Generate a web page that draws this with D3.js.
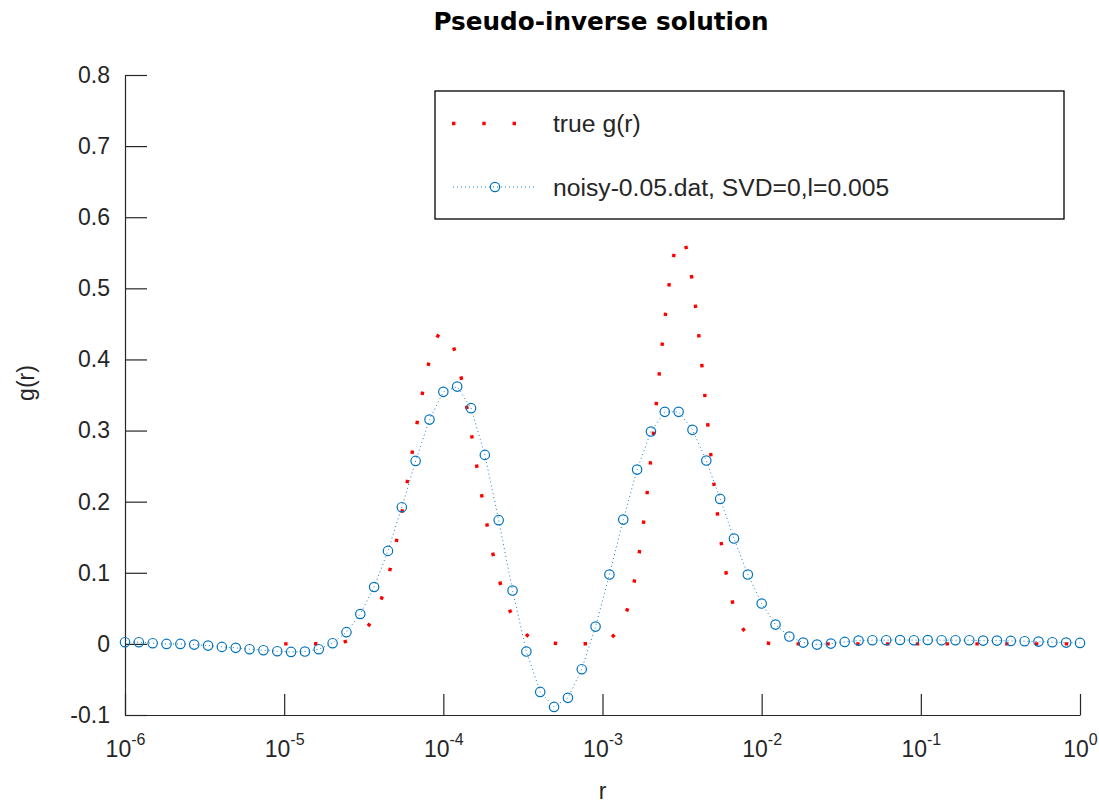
<!DOCTYPE html>
<html>
<head>
<meta charset="utf-8">
<script src="https://cdn.jsdelivr.net/npm/d3@7"></script>
<style>
  body { margin: 0; background: #fff; }
  text { font-family: "Liberation Sans", Arial, sans-serif; fill: #262626; }
</style>
</head>
<body>
<div id="chart"></div>
<script>
(function() {
  const width = 1099, height = 803;
  const margin = { top: 75, left: 125, right: 19, bottom: 88 };

  // x grid of the noisy solution: 70 points evenly spaced in log10(r) from 1e-6 to 1
  const noisyLogStart = -6, noisyLogEnd = 0, noisyCount = 70;
  const noisyG = [
    0.0024, 0.0024, 0.0010, 0.0000, 0.0000, -0.0010, -0.0024, -0.0042, -0.0056, -0.0075,
    -0.0089, -0.0103, -0.0113, -0.0108, -0.0075, 0.0010, 0.0165, 0.0420, 0.0800, 0.1308,
    0.1922, 0.2573, 0.3154, 0.3544, 0.3618, 0.3315, 0.2658, 0.1740, 0.0750, -0.0108,
    -0.0675, -0.0886, -0.0759, -0.0356, 0.0243, 0.0975, 0.1748, 0.2451, 0.2986, 0.3263,
    0.3263, 0.3010, 0.2578, 0.2039, 0.1481, 0.0975, 0.0567, 0.0271, 0.0103, 0.0018,
    -0.0010, 0.0004, 0.0028, 0.0046, 0.0052, 0.0052, 0.0055, 0.0052, 0.0055, 0.0052,
    0.0052, 0.0052, 0.0046, 0.0046, 0.0042, 0.0038, 0.0032, 0.0024, 0.0018, 0.0014
  ];

  // true g(r): log10(r) and value
  const trueLogR = [
    -5, -4.9, -4.8, -4.7, -4.6, -4.5, -4.45, -4.4, -4.35, -4.3, -4.25, -4.2, -4.15, -4.1, -4.05,
    -4.0, -3.95, -3.9, -3.85, -3.8, -3.75, -3.7, -3.65, -3.6, -3.55, -3.5, -3.4, -3.3, -3.2, -3.1,
    -3.0, -2.95, -2.9, -2.85, -2.8, -2.75, -2.7, -2.65, -2.6, -2.55, -2.5, -2.45, -2.4, -2.35, -2.3,
    -2.25, -2.2, -2.15, -2.1, -2.0, -1.9, -1.8, -1.5, -1.0, -0.5, 0
  ];
  const trueG = [
    0, 0, 0.0001, 0.0008, 0.0044, 0.0178, 0.0328, 0.0566, 0.0915, 0.1388, 0.1975, 0.2635, 0.3298, 0.3870, 0.4260,
    0.4400, 0.4260, 0.3870, 0.3298, 0.2635, 0.1975, 0.1388, 0.0915, 0.0566, 0.0328, 0.0178, 0.0044, 0.0008, 0.0001, 0.0003,
    0.0029, 0.0081, 0.0200, 0.0443, 0.0882, 0.1574, 0.2523, 0.3650, 0.4720, 0.5480, 0.5700, 0.5300, 0.4440, 0.3340, 0.2250,
    0.1360, 0.0740, 0.0360, 0.0158, 0.0022, 0.0003, 0, 0, 0, 0, 0
  ];

  const xTicks = [1e-6, 1e-5, 1e-4, 1e-3, 1e-2, 1e-1, 1];
  const yTicks = [-0.1, 0, 0.1, 0.2, 0.3, 0.4, 0.5, 0.6, 0.7, 0.8];

  const legendLabels = ['true g(r)', 'noisy-0.05.dat, SVD=0,l=0.005'];

  const red = '#ff0000', blue = '#0072bd';

  const svg = d3.select('#chart')
    .append('svg')
      .attr('width', width)
      .attr('height', height);

  svg.append('rect')
    .attr('width', width).attr('height', height).attr('fill', '#fff');

  const x = d3.scaleLog()
    .domain([1e-6, 1])
    .range([margin.left, width - margin.right]);

  const y = d3.scaleLinear()
    .domain([-0.1, 0.8])
    .range([height - margin.bottom, margin.top]);

  const noisy = noisyG.map((g, i) => ({
    r: Math.pow(10, noisyLogStart + i * (noisyLogEnd - noisyLogStart) / (noisyCount - 1)),
    g: g
  }));
  const truth = trueLogR.map((l, i) => ({ r: Math.pow(10, l), g: trueG[i] }));

  /*
    Axes: left and bottom only, ticks pointing inward
  */
  const yAxis = d3.axisLeft(y)
    .tickValues(yTicks)
    .tickSizeInner(-22)
    .tickSizeOuter(0)
    .tickPadding(15)
    .tickFormat(d => Math.abs(d) < 1e-9 ? '0' : d.toFixed(1));

  const gy = svg.append('g')
    .attr('transform', `translate(${x.range()[0]},0)`)
    .call(yAxis);

  const xAxis = d3.axisBottom(x)
    .tickValues(xTicks)
    .tickSizeInner(-21)
    .tickSizeOuter(0)
    .tickFormat('');

  const gx = svg.append('g')
    .attr('transform', `translate(0,${y.range()[0]})`)
    .call(xAxis);

  [gx, gy].forEach(g => {
    g.select('.domain').attr('stroke', '#262626').attr('stroke-width', 1.2);
    g.selectAll('.tick line').attr('stroke', '#262626').attr('stroke-width', 1.2);
    g.selectAll('.tick text')
      .attr('fill', '#262626')
      .style('font-family', '"Liberation Sans", Arial, sans-serif')
      .style('font-size', '23px');
  });

  // 10^n labels with superscript exponents
  gx.selectAll('.tick text')
    .attr('y', 42)
    .attr('dy', null)
    .each(function(d) {
      const t = d3.select(this);
      t.text(null);
      t.append('tspan').text('10');
      t.append('tspan')
        .attr('dy', -12)
        .style('font-size', '16px')
        .text(String(Math.round(Math.log10(d))));
    });

  /*
    True g(r): red dotted line
  */
  const line = d3.line()
    .x(d => x(d.r))
    .y(d => y(d.g));

  svg.append('path')
    .datum(truth)
    .attr('fill', 'none')
    .attr('stroke', red)
    .attr('stroke-width', 3.4)
    .attr('stroke-dasharray', '3.4 26.4')
    .attr('d', line.curve(d3.curveMonotoneX));

  /*
    Noisy solution: thin dotted blue line with circle markers
  */
  svg.append('path')
    .datum(noisy)
    .attr('fill', 'none')
    .attr('stroke', blue)
    .attr('stroke-width', 0.9)
    .attr('stroke-dasharray', '1 3')
    .attr('d', d3.line().x(d => x(d.r)).y(d => y(d.g)));

  svg.selectAll('.marker')
    .data(noisy)
    .enter().append('circle')
      .attr('class', 'marker')
      .attr('cx', d => x(d.r))
      .attr('cy', d => y(d.g))
      .attr('r', 4.7)
      .attr('fill', 'none')
      .attr('stroke', blue)
      .attr('stroke-width', 1.2);

  /*
    Title and axis labels
  */
  svg.append('text')
    .attr('x', 601)
    .attr('y', 30)
    .attr('text-anchor', 'middle')
    .style('font-family', '"DejaVu Sans", sans-serif')
    .style('font-weight', 'bold')
    .style('font-size', '24.7px')
    .style('fill', '#000')
    .text('Pseudo-inverse solution');

  svg.append('text')
    .attr('x', (x.range()[0] + x.range()[1]) / 2)
    .attr('y', 799)
    .attr('text-anchor', 'middle')
    .style('font-size', '23px')
    .text('r');

  svg.append('text')
    .attr('transform', `translate(34,${(y.range()[0] + y.range()[1]) / 2 - 12}) rotate(-90)`)
    .attr('text-anchor', 'middle')
    .style('font-size', '23px')
    .text('g(r)');

  /*
    Legend
  */
  const legend = svg.append('g').attr('transform', 'translate(435,91)');

  legend.append('rect')
    .attr('width', 629)
    .attr('height', 128)
    .attr('fill', '#fff')
    .attr('stroke', '#000')
    .attr('stroke-width', 1.3);

  legend.append('path')
    .attr('d', d3.line()([[17, 32.5], [102, 32.5]]))
    .attr('stroke', red)
    .attr('stroke-width', 3.4)
    .attr('stroke-dasharray', '3.4 26.9');

  legend.append('path')
    .attr('d', d3.line()([[18, 96], [102, 96]]))
    .attr('stroke', blue)
    .attr('stroke-width', 0.9)
    .attr('stroke-dasharray', '1 3');

  legend.append('circle')
    .attr('cx', 60).attr('cy', 96).attr('r', 4.7)
    .attr('fill', 'none').attr('stroke', blue).attr('stroke-width', 1.2);

  legend.selectAll('.label')
    .data(legendLabels)
    .enter().append('text')
      .attr('class', 'label')
      .attr('x', 118)
      .attr('y', (d, i) => 40.5 + i * 64)
      .style('font-size', '24.7px')
      .text(d => d);
})();
</script>
</body>
</html>
